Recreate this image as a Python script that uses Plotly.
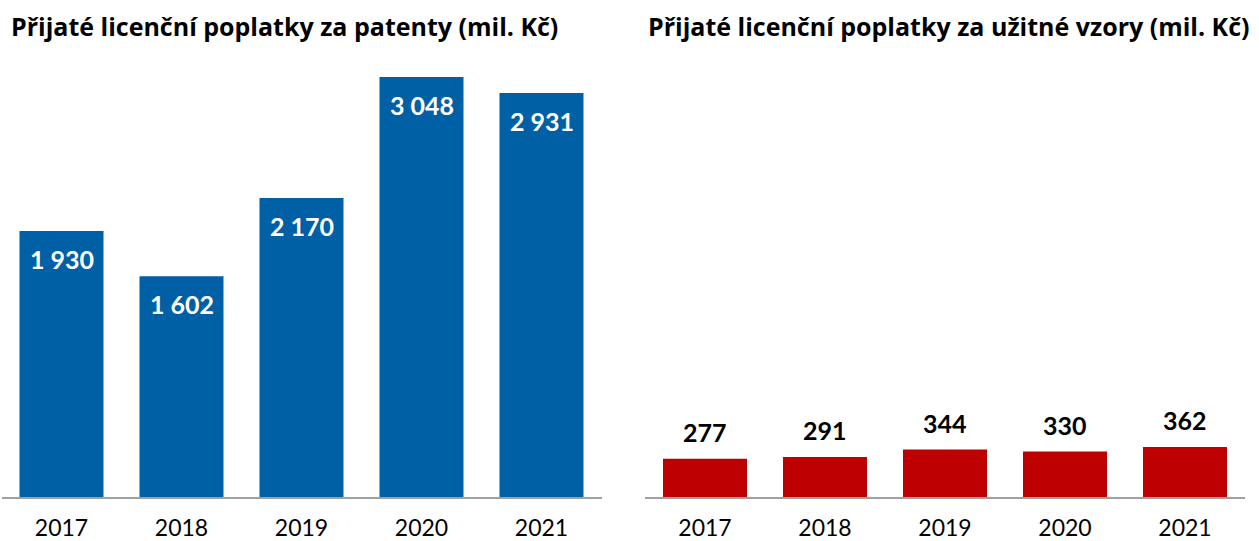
import plotly.graph_objects as go
from plotly.subplots import make_subplots

years = ["2017", "2018", "2019", "2020", "2021"]
patents = [1930, 1602, 2170, 3048, 2931]
utility = [277, 291, 344, 330, 362]
title_left = "Přijaté licenční poplatky za patenty (mil. Kč)"
title_right = "Přijaté licenční poplatky za užitné vzory (mil. Kč)"

W, H = 1259, 541
ML, MR, MT, MB = 0, 0, 60, 44
plot_h = H - MT - MB
ymax = 3171


def fmt(v):
    return f"{v:,}".replace(",", " ")


fig = make_subplots(rows=1, cols=2, horizontal_spacing=0.03)

fig.add_trace(go.Bar(x=years, y=patents, marker=dict(color="#0060a5", line_width=0),
                     hoverinfo="x+y"), row=1, col=1)
fig.add_trace(go.Bar(x=years, y=utility, marker=dict(color="#bd0000", line_width=0),
                     hoverinfo="x+y"), row=1, col=2)

anns = []
for i, v in enumerate(patents):
    anns.append(dict(x=i, y=v, xref="x", yref="y", text=f"<b>{fmt(v)}</b>",
                     showarrow=False, yanchor="middle", yshift=-28,
                     font=dict(family="Lato", size=25, color="white")))
for i, v in enumerate(utility):
    anns.append(dict(x=i, y=v, xref="x2", yref="y2", text=f"<b>{fmt(v)}</b>",
                     showarrow=False, yanchor="middle", yshift=27,
                     font=dict(family="Lato", size=25, color="black")))

def py(pix):
    return (H - MB - pix) / plot_h

anns.append(dict(x=9 / W, y=py(26), xref="paper", yref="paper", xanchor="left",
                 yanchor="middle", text=f"<b>{title_left}</b>", showarrow=False,
                 font=dict(family="Open Sans", size=25, color="black")))
anns.append(dict(x=646 / W, y=py(26), xref="paper", yref="paper", xanchor="left",
                 yanchor="middle", text=f"<b>{title_right}</b>", showarrow=False,
                 font=dict(family="Open Sans", size=25, color="black")))

axis_common = dict(type="category", range=[-0.5, len(years) - 0.5], autorange=False,
                   showgrid=False, zeroline=False, showline=True,
                   linecolor="#a0a0a0", linewidth=2, ticks="", automargin=False,
                   tickfont=dict(family="Lato", size=23, color="black"),
                   ticklabelstandoff=9, fixedrange=True)
fig.update_xaxes(**axis_common)
fig.update_xaxes(domain=[1.5 / W, 601.5 / W], row=1, col=1)
fig.update_xaxes(domain=[645 / W, 1245 / W], row=1, col=2)
fig.update_yaxes(range=[0, ymax], autorange=False, visible=False, fixedrange=True,
                 automargin=False)

fig.update_layout(
    width=W, height=H, margin=dict(l=ML, r=MR, t=MT, b=MB, autoexpand=False),
    paper_bgcolor="white", plot_bgcolor="white", showlegend=False,
    bargap=0.3, annotations=anns, font=dict(family="Lato"),
)

fig.write_html("out.html", config={"displayModeBar": False},
               post_script="document.body.style.margin='0';document.body.style.overflow='hidden';")
